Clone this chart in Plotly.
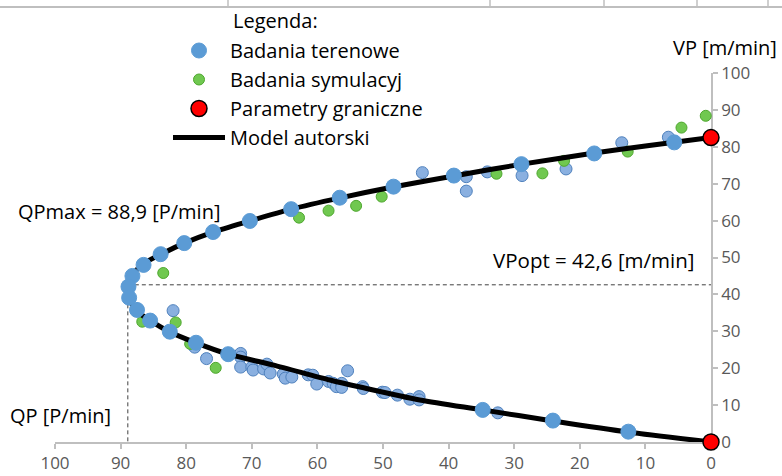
import plotly.graph_objects as go

# ---- data (QP [P/min], VP [m/min]) ----
model_qp = [0, 12.7, 24.1, 34.8, 44.4, 53.5, 58.1, 66.8, 73.6, 78.4, 82.5, 85.4, 87.5, 88.7, 88.9,
            88.3, 86.6, 83.8, 80.3, 75.9, 70.3, 64.0, 56.7, 48.5, 39.2, 28.8, 17.8, 10.0, 0]
model_vp = [0, 2.7, 5.7, 8.7, 11.4, 14.9, 16.8, 20.9, 23.8, 26.8, 29.8, 32.8, 35.5, 39.2, 42.6,
            45.0, 48.2, 50.9, 53.9, 56.9, 59.9, 63.1, 66.1, 69.1, 72.1, 75.3, 78.3, 80.2, 82.5]

field_qp = [5.6, 17.8, 28.9, 39.2, 48.4, 56.6, 64.0, 70.3, 75.9, 80.3, 83.9, 86.5, 88.2, 88.8,
            88.7, 87.5, 85.5, 82.5, 78.5, 73.6, 34.8, 24.1, 12.6]
field_vp = [81.2, 78.2, 75.3, 72.2, 69.2, 66.2, 63.1, 59.9, 56.9, 53.9, 50.9, 48.0, 45.0, 42.1,
            39.1, 35.8, 32.9, 29.9, 26.9, 23.8, 8.7, 5.8, 2.8]

field2_qp = [6.5, 13.6, 22.1, 28.8, 34.1, 37.3, 37.3, 44.0,
             82.0, 78.7, 76.9, 71.7, 71.7, 71.7, 70.0, 69.8, 68.2, 67.7, 67.2, 65.2, 64.9, 63.9,
             61.4, 60.7, 60.1, 58.3, 57.6, 57.1, 56.3, 56.3, 55.4, 53.1, 53.0, 50.1, 49.7, 47.8,
             45.9, 44.5, 44.5, 32.5]
field2_vp = [82.6, 81.1, 74.0, 72.2, 73.2, 71.9, 68.0, 73.0,
             35.6, 25.7, 22.6, 24.0, 23.0, 20.3, 20.3, 19.5, 19.8, 21.1, 18.7, 18.4, 17.3, 17.6,
             18.2, 18.1, 15.7, 16.4, 15.9, 15.0, 15.9, 14.8, 19.3, 15.0, 14.5, 13.5, 13.4, 12.7,
             11.6, 12.3, 11.4, 7.9]

sim_qp = [0.8, 4.5, 12.7, 22.4, 25.7, 32.7, 50.2, 54.1, 58.3, 62.8, 83.5, 86.7, 81.6, 79.4, 75.5]
sim_vp = [88.4, 85.2, 78.7, 76.2, 72.8, 72.7, 66.5, 64.0, 62.7, 60.8, 45.8, 32.6, 32.4, 26.6, 20.1]

limit_qp = [0, 0]
limit_vp = [82.5, 0]

qp_max = 88.9
vp_opt = 42.6

x_ticks = list(range(0, 101, 10))
y_ticks = list(range(0, 101, 10))

FONT = "Open Sans"

# plot-area geometry helpers (pixels -> paper)
L, R, T, B = 55, 71, 73, 34
PW, PH = 782 - L - R, 476 - T - B
def px_x(p):
    return (p - L) / PW
def px_y(p):
    return (476 - B - p) / PH

fig = go.Figure()

# dashed reference lines
fig.add_trace(go.Scatter(x=[qp_max, 0], y=[vp_opt, vp_opt], mode="lines",
                         line=dict(color="#404040", width=1, dash="4px,3px"),
                         showlegend=False, hoverinfo="skip"))
fig.add_trace(go.Scatter(x=[qp_max, qp_max], y=[vp_opt - 1.5, 0], mode="lines",
                         line=dict(color="#404040", width=1, dash="4px,3px"),
                         showlegend=False, hoverinfo="skip"))

fig.add_trace(go.Scatter(x=field2_qp, y=field2_vp, mode="markers",
                         marker=dict(size=12, color="#8ab0e0", line=dict(color="#4f81bd", width=1)),
                         showlegend=False, cliponaxis=False))
fig.add_trace(go.Scatter(x=sim_qp, y=sim_vp, mode="markers", name="Badania symulacyj",
                         marker=dict(size=11, color="#70c850", line=dict(color="#4ea72e", width=1)),
                         cliponaxis=False, legendrank=2))
fig.add_trace(go.Scatter(x=model_qp, y=model_vp, mode="lines", name="Model autorski",
                         line=dict(color="black", width=5, shape="spline", smoothing=0.8),
                         cliponaxis=False, legendrank=4))
fig.add_trace(go.Scatter(x=field_qp, y=field_vp, mode="markers", name="Badania terenowe",
                         marker=dict(size=15, color="#5b9bd5", line=dict(color="#5b9bd5", width=1)),
                         cliponaxis=False, legendrank=1))
fig.add_trace(go.Scatter(x=limit_qp, y=limit_vp, mode="markers", name="Parametry graniczne",
                         marker=dict(size=16, color="#ff0000", line=dict(color="black", width=1.5)),
                         cliponaxis=False, legendrank=3))

ann_font = dict(family=FONT, size=20, color="black")
fig.update_layout(
    width=782, height=476,
    margin=dict(l=L, r=R, t=T, b=B, autoexpand=False),
    paper_bgcolor="white", plot_bgcolor="white",
    font=dict(family=FONT, size=16, color="#595959"),
    hovermode=False, dragmode=False,
    showlegend=True,
    legend=dict(x=px_x(168), y=px_y(31), xanchor="left", yanchor="top",
                font=dict(family=FONT, size=20, color="black"),
                bgcolor="rgba(0,0,0,0)", tracegroupgap=0, itemwidth=52),
    xaxis=dict(range=[100, 0], tickvals=x_ticks, showgrid=False, zeroline=False,
               showline=True, linecolor="#bfbfbf", linewidth=1.5, layer="below traces",
               ticks="outside", ticklen=5, tickcolor="#bfbfbf", tickwidth=1.5,
               tickfont=dict(family=FONT, size=17, color="#595959")),
    yaxis=dict(range=[0, 100], tickvals=y_ticks, side="right", showgrid=False, zeroline=False,
               showline=True, linecolor="#bfbfbf", linewidth=1.5, layer="below traces",
               ticks="outside", ticklen=5, tickcolor="#bfbfbf", tickwidth=1.5,
               tickfont=dict(family=FONT, size=17, color="#595959")),
    annotations=[
        dict(text="Legenda:", xref="paper", yref="paper", x=px_x(231), y=px_y(20),
             xanchor="left", yanchor="middle", showarrow=False, font=ann_font),
        dict(text="VP [m/min]", xref="paper", yref="paper", x=px_x(779), y=px_y(47),
             xanchor="right", yanchor="middle", showarrow=False, font=ann_font),
        dict(text="QPmax = 88,9 [P/min]", xref="paper", yref="paper", x=px_x(16), y=px_y(211),
             xanchor="left", yanchor="middle", showarrow=False, font=ann_font),
        dict(text="VPopt = 42,6 [m/min]", xref="paper", yref="paper", x=px_x(697), y=px_y(260),
             xanchor="right", yanchor="middle", showarrow=False,
             font=dict(family=FONT, size=20.5, color="black")),
        dict(text="QP [P/min]", xref="paper", yref="paper", x=px_x(8), y=px_y(415),
             xanchor="left", yanchor="middle", showarrow=False, font=ann_font),
    ],
    shapes=[
        dict(type="line", xref="paper", yref="paper", x0=px_x(0), x1=px_x(782),
             y0=px_y(7), y1=px_y(7), line=dict(color="#bfbfbf", width=2)),
    ] + [
        dict(type="line", xref="paper", yref="paper", x0=px_x(p), x1=px_x(p),
             y0=px_y(7), y1=px_y(0), line=dict(color="#bfbfbf", width=1.5))
        for p in [228, 490, 604, 697, 768]
    ],
)

fig.write_html("out.html", config={"displayModeBar": False},
               post_script="document.body.style.margin='0px';document.body.style.overflow='hidden';")
